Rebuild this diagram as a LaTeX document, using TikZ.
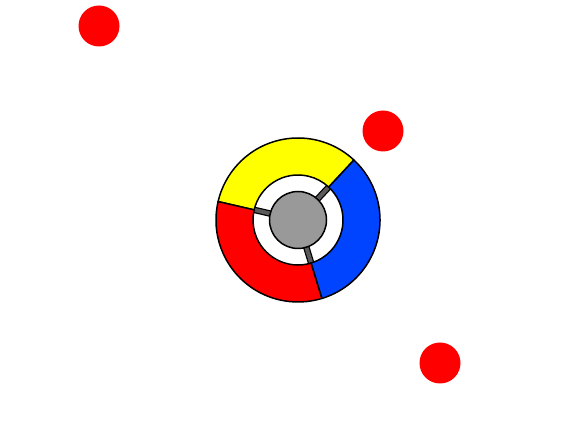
\documentclass[tikz,border=0pt]{standalone}
\usepackage{xcolor}
\usetikzlibrary{math}
\definecolor{wheelblue}{RGB}{0,68,255}
\definecolor{wheelyellow}{RGB}{255,255,0}
\definecolor{dotred}{RGB}{255,0,0}
\definecolor{hubgray}{RGB}{153,153,153}
\definecolor{spokegray}{RGB}{90,90,90}

\begin{document}
\begin{tikzpicture}[x=1pt,y=1pt]
\tikzmath{
\Ro=82;
\Ri=45;
\Rh=28.5;
\Rd=20.5;
}
\useasboundingbox (0,0) rectangle (580,446);
\coordinate (C) at (298,226);
\coordinate (D1) at (99,420);
\coordinate (D2) at (383,315);
\coordinate (D3) at (440,83);

 % spokes
 \foreach \a in {47,167,287}{
  \draw[shift={(C)}, line width=6.5, black] (\a:\Rh-2) -- (\a:\Ri+1);
  \draw[shift={(C)}, line width=4, spokegray] (\a:\Rh-2) -- (\a:\Ri+1);
 }
 \draw[line width=1.5, fill=hubgray] (C) circle(\Rh);

 % ring segments
 \foreach \a/\b/\col in {47/167/wheelyellow, 167/287/dotred, 287/407/wheelblue}{
  \draw[shift={(C)}, line width=1.5, fill=\col, line join=round]
   (\a:\Ro) arc[start angle=\a, end angle=\b, radius=\Ro]
   -- (\b:\Ri) arc[start angle=\b, end angle=\a, radius=\Ri] -- cycle;
 }

 \fill[dotred] (D1) circle(\Rd);
 \fill[dotred] (D2) circle(\Rd);
 \fill[dotred] (D3) circle(\Rd);
\end{tikzpicture}
\end{document}
